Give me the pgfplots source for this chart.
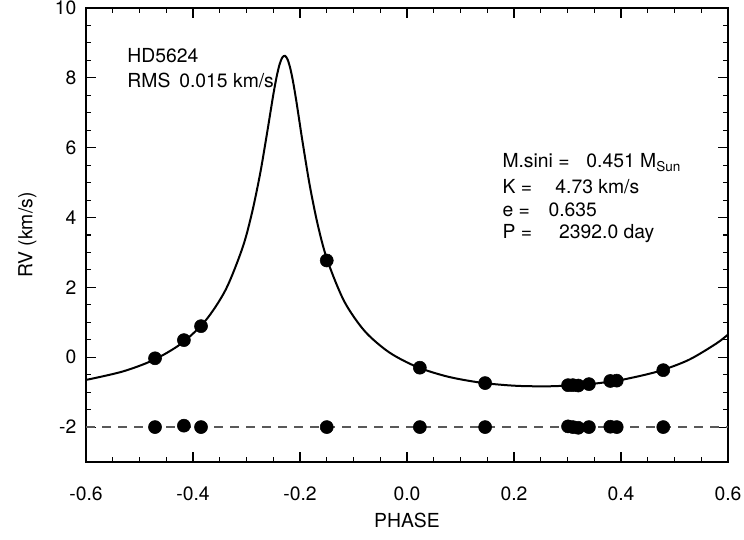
\documentclass[border=0pt]{standalone}
\usepackage{fontspec}
\setmainfont{TeX Gyre Heros}
\usepackage{pgfplots}
\pgfplotsset{compat=1.18}
\begin{document}
\begin{tikzpicture}
\fontsize{14.5}{16.5}\selectfont
\begin{axis}[
  name=ax,
  scale only axis,
  width=481.5pt, height=340.5pt,
  xmin=-0.6, xmax=0.6, ymin=-3, ymax=10,
  xtick={-0.6,-0.4,...,0.6},
  ytick={-2,0,...,10},
  minor x tick num=3, minor y tick num=3,
  xticklabels={-0.6,-0.4,-0.2,0.0,0.2,0.4,0.6},
  tick align=inside,
  major tick length=7.5pt, minor tick length=4pt,
  tick style={black, line width=0.8pt},
  axis line style={line width=0.9pt},
  /pgf/number format/assume math mode=true,
  xticklabel style={anchor=center, yshift=-24pt},
  yticklabel style={anchor=east, inner sep=0pt, xshift=-7pt},
  clip=false,
]
% dashed reference line
\addplot[black!65, dash pattern=on 6.5pt off 5.5pt, line width=0.9pt] coordinates {(-0.6,-2) (0.6,-2)};
% orbit fit, points
\addplot[black, line width=1.5pt, smooth, tension=0.5] coordinates {
(-0.600,-0.650) (-0.5315,-0.409) (-0.4738,-0.079)
(-0.4220,0.391) (-0.3769,1.043) (-0.3387,1.940) (-0.3071,3.150)
(-0.2895,4.152) (-0.2741,5.290) (-0.2608,6.491) (-0.2547,7.069)
(-0.2490,7.598) (-0.2435,8.046) (-0.2382,8.384) (-0.2331,8.584)
(-0.2280,8.630) (-0.2229,8.514) (-0.2178,8.248) (-0.2125,7.850)
(-0.2070,7.348) (-0.2013,6.777) (-0.1952,6.165) (-0.1818,4.922)
(-0.1665,3.772) (-0.1489,2.778) (-0.1173,1.600) (-0.0791,0.749)
(-0.0340,0.147) (0.0178,-0.272) (0.0755,-0.553) (0.1381,-0.728)
(0.2042,-0.818) (0.2720,-0.830) (0.3398,-0.770) (0.3732,-0.712)
(0.4059,-0.634) (0.4685,-0.409) (0.5262,-0.079) (0.5780,0.391)
(0.600,0.650)
};
% observed velocities
\addplot[only marks, mark=*, mark size=4.9pt, black] coordinates {
(-0.471,-0.03) (-0.417,0.49) (-0.385,0.89) (-0.150,2.77) (0.024,-0.30)
(0.146,-0.74) (0.301,-0.80) (0.310,-0.80) (0.320,-0.81) (0.340,-0.77)
(0.380,-0.68) (0.392,-0.67) (0.479,-0.37)
};
% residuals offset to -2
\addplot[only marks, mark=*, mark size=4.9pt, black] coordinates {
(-0.471,-2.0) (-0.417,-1.96) (-0.385,-2.0) (-0.150,-2.0) (0.024,-2.0)
(0.146,-2.0) (0.301,-1.98) (0.310,-2.0) (0.320,-2.02) (0.340,-2.0)
(0.380,-1.99) (0.392,-2.0) (0.479,-2.0)
};
\node[anchor=base west, inner sep=0pt] at (axis cs:-0.523,8.43) {HD5624};
\node[anchor=base west, inner sep=0pt] at (axis cs:-0.523,7.71) {RMS};
\node[anchor=base west, inner sep=0pt] at (axis cs:-0.426,7.71) {0.015 km/s};
\node[anchor=base west, inner sep=0pt] at (axis cs:0.178,5.43) {M.sini =};
\node[anchor=base west, inner sep=0pt] at (axis cs:0.335,5.43) {0.451 M\textsubscript{Sun}};
\node[anchor=base west, inner sep=0pt] at (axis cs:0.178,4.69) {K =};
\node[anchor=base west, inner sep=0pt] at (axis cs:0.277,4.69) {4.73 km/s};
\node[anchor=base west, inner sep=0pt] at (axis cs:0.178,4.03) {e =};
\node[anchor=base west, inner sep=0pt] at (axis cs:0.264,4.03) {0.635};
\node[anchor=base west, inner sep=0pt] at (axis cs:0.178,3.40) {P =};
\node[anchor=base west, inner sep=0pt] at (axis cs:0.284,3.40) {2392.0 day};
\end{axis}
\node[anchor=center] at ([yshift=-44pt]ax.south) {PHASE};
\node[anchor=center, rotate=90] at ([xshift=-44pt]ax.west) {RV (km/s)};
\pgfresetboundingbox
\path[use as bounding box] ([shift={(-64.5pt,-57.75pt)}]ax.south west) rectangle ([shift={(12pt,6pt)}]ax.north east);
\end{tikzpicture}
\end{document}
